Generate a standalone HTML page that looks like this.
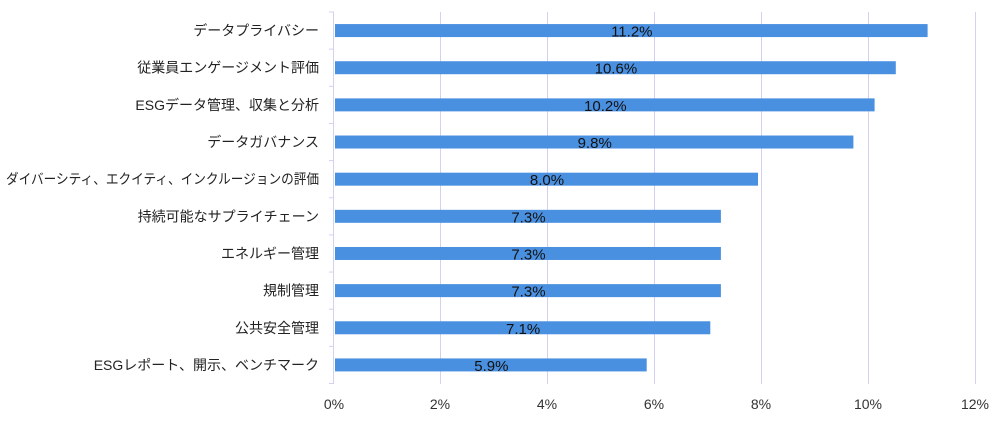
<!DOCTYPE html>
<html><head><meta charset="utf-8"><style>
body{margin:0;background:#fff;}
svg text{font-family:"Liberation Sans","Noto Sans CJK JP",sans-serif;}
</style></head><body>
<svg width="1003" height="420" xmlns="http://www.w3.org/2000/svg">
<g stroke="#d4d0f0" stroke-width="1">
<line x1="440.5" y1="12" x2="440.5" y2="384"/>
<line x1="547.5" y1="12" x2="547.5" y2="384"/>
<line x1="654.5" y1="12" x2="654.5" y2="384"/>
<line x1="761.5" y1="12" x2="761.5" y2="384"/>
<line x1="868.5" y1="12" x2="868.5" y2="384"/>
<line x1="975.5" y1="12" x2="975.5" y2="384"/>
<line x1="333.5" y1="12" x2="333.5" y2="384"/>
</g>
<g stroke="#d4d0f0" stroke-width="1" id="ticks"></g>
<g id="bars"></g>
<g font-size="14" fill="#333" text-anchor="middle">
<text x="334" y="409">0%</text><text x="440" y="409">2%</text><text x="547" y="409">4%</text><text x="654" y="409">6%</text><text x="761" y="409">8%</text><text x="868" y="409">10%</text><text x="975" y="409">12%</text>
</g>
<script>
var d=[["データプライバシー",11.2],["従業員エンゲージメント評価",10.6],["ESGデータ管理、収集と分析",10.2],["データガバナンス",9.8],["ダイバーシティ、エクイティ、インクルージョンの評価",8.0],["持続可能なサプライチェーン",7.3],["エネルギー管理",7.3],["規制管理",7.3],["公共安全管理",7.1],["ESGレポート、開示、ベンチマーク",5.9]];
var ns="http://www.w3.org/2000/svg",b=document.getElementById("bars"),t=document.getElementById("ticks");
function el(n,a,p,tx){var e=document.createElementNS(ns,n);for(var k in a)e.setAttribute(k,a[k]);if(tx)e.textContent=tx;p.appendChild(e);return e;}
for(var i=0;i<=10;i++){var y=12+i*37.15;el("line",{x1:329,x2:334,y1:y,y2:y},t);}
d.forEach(function(r,i){var c=12+37.15*(i+0.5);var w=r[1]*53.0;
el("rect",{x:335,y:c-6.5,width:w-1,height:13,fill:"#4a90e0"},b);
el("text",{x:335+w/2,y:c+6,"font-size":"15","text-anchor":"middle",fill:"#111"},b,r[1].toFixed(1)+"%");
var a={x:319,y:c+5,"font-size":"14","text-anchor":"end",fill:"#222"};
if(i==4){a.textLength=313;a.lengthAdjust="spacingAndGlyphs";}
el("text",a,b,r[0]);});
</script>
</svg>
</body></html>
